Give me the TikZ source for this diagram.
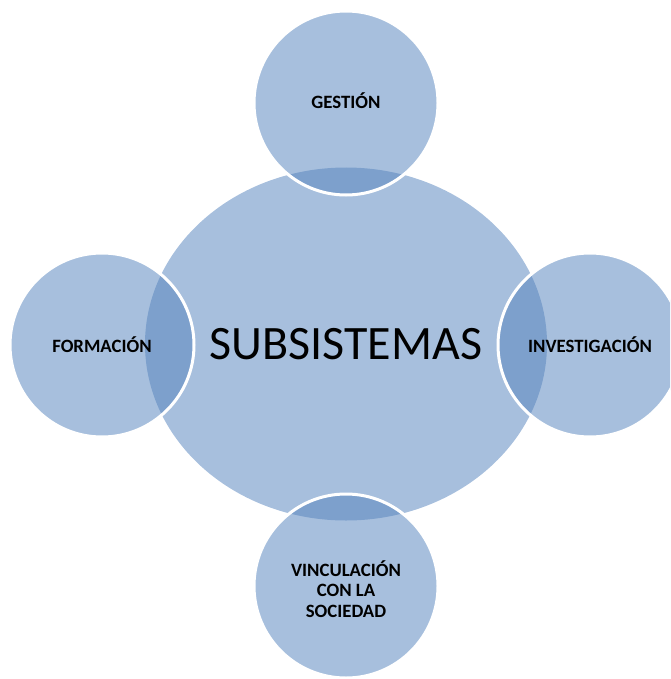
\documentclass[tikz,border=0pt]{standalone}
\usepackage{fontspec}
\setmainfont{Carlito}
\usetikzlibrary{shapes.geometric}
\definecolor{bigfill}{HTML}{A7BFDD}
\definecolor{satfill}{HTML}{5785BE}
\tikzset{
  hub/.style={ellipse, fill=bigfill, minimum width=402pt, minimum height=353pt, inner sep=0pt,
    font=\fontsize{48}{50}\selectfont},
  sat/.style={circle, fill=satfill, fill opacity=0.52, text opacity=1, draw=white, line width=3pt,
    minimum size=184pt, inner sep=0pt, align=center,
    font=\bfseries\fontsize{18.8}{20.5}\selectfont},
  sattext/.style={align=center, font=\bfseries\fontsize{18.8}{20.5}\selectfont},
}
\begin{document}
\begin{tikzpicture}[x=1pt,y=-1pt]
\clip (0,0) rectangle (670,679);
\node[hub] (hub) at (346,344) {SUBSISTEMAS};
\node[sat] (ges) at (346,103) {};
\node[sattext] (gest) at (346,101) {GESTIÓN};
\node[sat] (for) at (102,345) {FORMACIÓN};
\node[sat] (inv) at (590,345) {INVESTIGACIÓN};
\node[sat] (vin) at (346,586) {};
\node[sattext] (vint) at (346,589) {VINCULACIÓN\\CON LA\\SOCIEDAD};
\end{tikzpicture}
\end{document}
